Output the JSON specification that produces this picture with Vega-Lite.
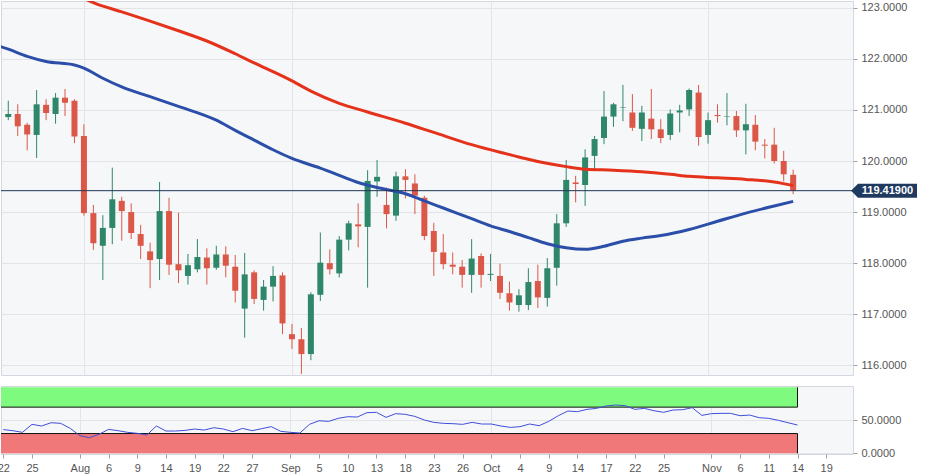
{
  "$schema": "https://vega.github.io/schema/vega-lite/v6.json",
  "background": "white",
  "padding": {"left": -4, "top": 0, "right": 0, "bottom": 0},
  "config": {
    "view": {"fill": "#f6f7f9", "stroke": "#d4d7e0"},
    "font": "Liberation Sans",
    "axis": {
      "labelFont": "Liberation Sans",
      "labelFontSize": 11,
      "labelColor": "#555555",
      "tickColor": "#a0a0a0",
      "tickSize": 4,
      "labelPadding": 4,
      "gridColor": "#e2e4ea",
      "domain": false
    }
  },
  "spacing": 9,
  "datasets": {
    "candles": [
      {"date": "2019-07-22", "i": 0, "open": 120.86, "high": 121.18, "low": 120.80, "close": 120.92, "rsi": 36.0},
      {"date": "2019-07-23", "i": 1, "open": 120.92, "high": 121.11, "low": 120.49, "close": 120.68, "rsi": 34.3},
      {"date": "2019-07-24", "i": 2, "open": 120.71, "high": 120.75, "low": 120.21, "close": 120.52, "rsi": 31.8},
      {"date": "2019-07-25", "i": 3, "open": 120.51, "high": 121.39, "low": 120.06, "close": 121.11, "rsi": 43.9},
      {"date": "2019-07-26", "i": 4, "open": 121.10, "high": 121.21, "low": 120.80, "close": 120.94, "rsi": 41.4},
      {"date": "2019-07-29", "i": 5, "open": 120.92, "high": 121.33, "low": 120.73, "close": 121.24, "rsi": 46.4},
      {"date": "2019-07-30", "i": 6, "open": 121.24, "high": 121.41, "low": 120.88, "close": 121.14, "rsi": 45.4},
      {"date": "2019-07-31", "i": 7, "open": 121.18, "high": 121.21, "low": 120.35, "close": 120.48, "rsi": 37.8},
      {"date": "2019-08-01", "i": 8, "open": 120.49, "high": 120.72, "low": 118.93, "close": 118.98, "rsi": 26.8},
      {"date": "2019-08-02", "i": 9, "open": 118.98, "high": 119.14, "low": 118.26, "close": 118.39, "rsi": 23.7},
      {"date": "2019-08-05", "i": 10, "open": 118.34, "high": 118.94, "low": 117.67, "close": 118.69, "rsi": 28.8},
      {"date": "2019-08-06", "i": 11, "open": 118.69, "high": 119.87, "low": 118.37, "close": 119.25, "rsi": 36.3},
      {"date": "2019-08-07", "i": 12, "open": 119.22, "high": 119.30, "low": 118.44, "close": 119.02, "rsi": 34.3},
      {"date": "2019-08-08", "i": 13, "open": 119.00, "high": 119.17, "low": 118.47, "close": 118.59, "rsi": 31.8},
      {"date": "2019-08-09", "i": 14, "open": 118.57, "high": 118.75, "low": 118.08, "close": 118.34, "rsi": 30.3},
      {"date": "2019-08-12", "i": 15, "open": 118.23, "high": 118.40, "low": 117.51, "close": 118.06, "rsi": 27.8},
      {"date": "2019-08-13", "i": 16, "open": 118.08, "high": 119.59, "low": 117.67, "close": 119.02, "rsi": 41.4},
      {"date": "2019-08-14", "i": 17, "open": 119.02, "high": 119.28, "low": 117.77, "close": 117.97, "rsi": 33.8},
      {"date": "2019-08-15", "i": 18, "open": 117.98, "high": 118.99, "low": 117.61, "close": 117.86, "rsi": 33.8},
      {"date": "2019-08-16", "i": 19, "open": 117.75, "high": 118.18, "low": 117.58, "close": 117.96, "rsi": 34.8},
      {"date": "2019-08-19", "i": 20, "open": 117.88, "high": 118.47, "low": 117.82, "close": 118.12, "rsi": 36.8},
      {"date": "2019-08-20", "i": 21, "open": 118.11, "high": 118.29, "low": 117.58, "close": 117.90, "rsi": 35.3},
      {"date": "2019-08-21", "i": 22, "open": 117.91, "high": 118.34, "low": 117.87, "close": 118.17, "rsi": 38.8},
      {"date": "2019-08-22", "i": 23, "open": 118.17, "high": 118.33, "low": 117.72, "close": 117.95, "rsi": 36.8},
      {"date": "2019-08-23", "i": 24, "open": 117.93, "high": 118.16, "low": 117.23, "close": 117.46, "rsi": 32.8},
      {"date": "2019-08-26", "i": 25, "open": 117.11, "high": 118.20, "low": 116.54, "close": 117.78, "rsi": 37.8},
      {"date": "2019-08-27", "i": 26, "open": 117.82, "high": 117.86, "low": 117.20, "close": 117.30, "rsi": 34.3},
      {"date": "2019-08-28", "i": 27, "open": 117.28, "high": 117.67, "low": 117.07, "close": 117.54, "rsi": 37.3},
      {"date": "2019-08-29", "i": 28, "open": 117.54, "high": 117.94, "low": 117.25, "close": 117.75, "rsi": 40.4},
      {"date": "2019-08-30", "i": 29, "open": 117.76, "high": 117.82, "low": 116.61, "close": 116.82, "rsi": 33.3},
      {"date": "2019-09-02", "i": 30, "open": 116.61, "high": 116.81, "low": 116.32, "close": 116.51, "rsi": 31.8},
      {"date": "2019-09-03", "i": 31, "open": 116.51, "high": 116.73, "low": 115.83, "close": 116.22, "rsi": 30.8},
      {"date": "2019-09-04", "i": 32, "open": 116.22, "high": 117.43, "low": 116.10, "close": 117.39, "rsi": 43.9},
      {"date": "2019-09-05", "i": 33, "open": 117.38, "high": 118.60, "low": 117.26, "close": 118.01, "rsi": 49.4},
      {"date": "2019-09-06", "i": 34, "open": 118.00, "high": 118.27, "low": 117.78, "close": 117.88, "rsi": 48.4},
      {"date": "2019-09-09", "i": 35, "open": 117.80, "high": 118.53, "low": 117.72, "close": 118.46, "rsi": 53.0},
      {"date": "2019-09-10", "i": 36, "open": 118.46, "high": 118.83, "low": 118.25, "close": 118.78, "rsi": 55.5},
      {"date": "2019-09-11", "i": 37, "open": 118.76, "high": 119.17, "low": 118.31, "close": 118.72, "rsi": 55.0},
      {"date": "2019-09-12", "i": 38, "open": 118.71, "high": 119.82, "low": 117.52, "close": 119.61, "rsi": 61.6},
      {"date": "2019-09-13", "i": 39, "open": 119.60, "high": 120.02, "low": 119.30, "close": 119.69, "rsi": 62.1},
      {"date": "2019-09-16", "i": 40, "open": 119.14, "high": 119.48, "low": 118.68, "close": 118.96, "rsi": 54.5},
      {"date": "2019-09-17", "i": 41, "open": 118.93, "high": 119.79, "low": 118.83, "close": 119.70, "rsi": 60.1},
      {"date": "2019-09-18", "i": 42, "open": 119.70, "high": 119.84, "low": 119.27, "close": 119.63, "rsi": 59.1},
      {"date": "2019-09-19", "i": 43, "open": 119.56, "high": 119.74, "low": 118.96, "close": 119.32, "rsi": 56.0},
      {"date": "2019-09-20", "i": 44, "open": 119.28, "high": 119.32, "low": 118.45, "close": 118.53, "rsi": 50.5},
      {"date": "2019-09-23", "i": 45, "open": 118.63, "high": 118.79, "low": 117.75, "close": 118.22, "rsi": 46.9},
      {"date": "2019-09-24", "i": 46, "open": 118.21, "high": 118.57, "low": 117.88, "close": 117.98, "rsi": 45.4},
      {"date": "2019-09-25", "i": 47, "open": 117.97, "high": 118.21, "low": 117.78, "close": 117.93, "rsi": 44.9},
      {"date": "2019-09-26", "i": 48, "open": 117.93, "high": 118.06, "low": 117.52, "close": 117.77, "rsi": 43.9},
      {"date": "2019-09-27", "i": 49, "open": 117.77, "high": 118.47, "low": 117.42, "close": 118.09, "rsi": 46.9},
      {"date": "2019-09-30", "i": 50, "open": 118.14, "high": 118.19, "low": 117.52, "close": 117.77, "rsi": 44.4},
      {"date": "2019-10-01", "i": 51, "open": 117.77, "high": 118.18, "low": 117.65, "close": 117.79, "rsi": 44.4},
      {"date": "2019-10-02", "i": 52, "open": 117.75, "high": 117.99, "low": 117.30, "close": 117.42, "rsi": 41.4},
      {"date": "2019-10-03", "i": 53, "open": 117.41, "high": 117.64, "low": 117.07, "close": 117.23, "rsi": 39.3},
      {"date": "2019-10-04", "i": 54, "open": 117.18, "high": 117.49, "low": 117.05, "close": 117.37, "rsi": 40.4},
      {"date": "2019-10-07", "i": 55, "open": 117.18, "high": 117.90, "low": 117.08, "close": 117.63, "rsi": 44.4},
      {"date": "2019-10-08", "i": 56, "open": 117.65, "high": 117.97, "low": 117.12, "close": 117.33, "rsi": 41.9},
      {"date": "2019-10-09", "i": 57, "open": 117.32, "high": 118.10, "low": 117.15, "close": 117.90, "rsi": 48.4},
      {"date": "2019-10-10", "i": 58, "open": 117.91, "high": 118.96, "low": 117.56, "close": 118.78, "rsi": 57.0},
      {"date": "2019-10-11", "i": 59, "open": 118.78, "high": 120.02, "low": 118.71, "close": 119.63, "rsi": 64.1},
      {"date": "2019-10-14", "i": 60, "open": 119.58, "high": 119.71, "low": 119.19, "close": 119.55, "rsi": 63.1},
      {"date": "2019-10-15", "i": 61, "open": 119.53, "high": 120.23, "low": 119.12, "close": 120.07, "rsi": 66.6},
      {"date": "2019-10-16", "i": 62, "open": 120.10, "high": 120.49, "low": 119.81, "close": 120.43, "rsi": 68.1},
      {"date": "2019-10-17", "i": 63, "open": 120.45, "high": 121.37, "low": 120.33, "close": 120.87, "rsi": 71.7},
      {"date": "2019-10-18", "i": 64, "open": 120.87, "high": 121.14, "low": 120.67, "close": 121.11, "rsi": 73.2},
      {"date": "2019-10-21", "i": 65, "open": 121.04, "high": 121.49, "low": 120.78, "close": 121.05, "rsi": 72.2},
      {"date": "2019-10-22", "i": 66, "open": 120.95, "high": 121.31, "low": 120.59, "close": 120.65, "rsi": 66.6},
      {"date": "2019-10-23", "i": 67, "open": 120.63, "high": 121.08, "low": 120.39, "close": 120.95, "rsi": 68.1},
      {"date": "2019-10-24", "i": 68, "open": 120.83, "high": 121.41, "low": 120.43, "close": 120.62, "rsi": 64.6},
      {"date": "2019-10-25", "i": 69, "open": 120.62, "high": 120.82, "low": 120.35, "close": 120.45, "rsi": 62.1},
      {"date": "2019-10-28", "i": 70, "open": 120.51, "high": 121.01, "low": 120.41, "close": 120.93, "rsi": 65.6},
      {"date": "2019-10-29", "i": 71, "open": 120.95, "high": 121.10, "low": 120.56, "close": 120.99, "rsi": 66.1},
      {"date": "2019-10-30", "i": 72, "open": 121.01, "high": 121.42, "low": 120.88, "close": 121.39, "rsi": 69.2},
      {"date": "2019-10-31", "i": 73, "open": 121.34, "high": 121.49, "low": 120.30, "close": 120.47, "rsi": 57.5},
      {"date": "2019-11-01", "i": 74, "open": 120.51, "high": 120.95, "low": 120.34, "close": 120.80, "rsi": 60.1},
      {"date": "2019-11-04", "i": 75, "open": 120.90, "high": 121.11, "low": 120.75, "close": 120.88, "rsi": 60.6},
      {"date": "2019-11-05", "i": 76, "open": 120.87, "high": 121.33, "low": 120.70, "close": 120.88, "rsi": 60.6},
      {"date": "2019-11-06", "i": 77, "open": 120.88, "high": 120.98, "low": 120.47, "close": 120.60, "rsi": 57.0},
      {"date": "2019-11-07", "i": 78, "open": 120.60, "high": 121.12, "low": 120.13, "close": 120.72, "rsi": 58.0},
      {"date": "2019-11-08", "i": 79, "open": 120.71, "high": 120.90, "low": 120.21, "close": 120.38, "rsi": 54.0},
      {"date": "2019-11-11", "i": 80, "open": 120.32, "high": 120.43, "low": 120.05, "close": 120.30, "rsi": 53.0},
      {"date": "2019-11-12", "i": 81, "open": 120.32, "high": 120.65, "low": 119.95, "close": 120.00, "rsi": 50.0},
      {"date": "2019-11-13", "i": 82, "open": 120.00, "high": 120.20, "low": 119.60, "close": 119.74, "rsi": 46.4},
      {"date": "2019-11-14", "i": 83, "open": 119.73, "high": 119.83, "low": 119.35, "close": 119.419, "rsi": 42.9}
    ],
    "ma": [
      {"series": "slow", "i": 7, "value": 123.28},
      {"series": "slow", "i": 9, "value": 123.10},
      {"series": "slow", "i": 12, "value": 122.92},
      {"series": "slow", "i": 15, "value": 122.74},
      {"series": "slow", "i": 18, "value": 122.55},
      {"series": "slow", "i": 21, "value": 122.35},
      {"series": "slow", "i": 24, "value": 122.10},
      {"series": "slow", "i": 26, "value": 121.92},
      {"series": "slow", "i": 28, "value": 121.75},
      {"series": "slow", "i": 30, "value": 121.57},
      {"series": "slow", "i": 32, "value": 121.37},
      {"series": "slow", "i": 35, "value": 121.13},
      {"series": "slow", "i": 38, "value": 120.96},
      {"series": "slow", "i": 42, "value": 120.74},
      {"series": "slow", "i": 45, "value": 120.56},
      {"series": "slow", "i": 49, "value": 120.32},
      {"series": "slow", "i": 52, "value": 120.17},
      {"series": "slow", "i": 54, "value": 120.08},
      {"series": "slow", "i": 56, "value": 119.99},
      {"series": "slow", "i": 59, "value": 119.89},
      {"series": "slow", "i": 61, "value": 119.84},
      {"series": "slow", "i": 64, "value": 119.82},
      {"series": "slow", "i": 67, "value": 119.79},
      {"series": "slow", "i": 70, "value": 119.74},
      {"series": "slow", "i": 72, "value": 119.70},
      {"series": "slow", "i": 75, "value": 119.67},
      {"series": "slow", "i": 78, "value": 119.64},
      {"series": "slow", "i": 81, "value": 119.59},
      {"series": "slow", "i": 83, "value": 119.52},
      {"series": "fast", "i": -1, "value": 122.25},
      {"series": "fast", "i": 0, "value": 122.19},
      {"series": "fast", "i": 2, "value": 122.05},
      {"series": "fast", "i": 4, "value": 121.95},
      {"series": "fast", "i": 7, "value": 121.88},
      {"series": "fast", "i": 8, "value": 121.82},
      {"series": "fast", "i": 10, "value": 121.62},
      {"series": "fast", "i": 12, "value": 121.45},
      {"series": "fast", "i": 15, "value": 121.26},
      {"series": "fast", "i": 18, "value": 121.07},
      {"series": "fast", "i": 22, "value": 120.80},
      {"series": "fast", "i": 24, "value": 120.60},
      {"series": "fast", "i": 26, "value": 120.41},
      {"series": "fast", "i": 28, "value": 120.22},
      {"series": "fast", "i": 30, "value": 120.05},
      {"series": "fast", "i": 33, "value": 119.86},
      {"series": "fast", "i": 35, "value": 119.72},
      {"series": "fast", "i": 37, "value": 119.58},
      {"series": "fast", "i": 39, "value": 119.48},
      {"series": "fast", "i": 42, "value": 119.36},
      {"series": "fast", "i": 44, "value": 119.22},
      {"series": "fast", "i": 46, "value": 119.08},
      {"series": "fast", "i": 49, "value": 118.87},
      {"series": "fast", "i": 51, "value": 118.73},
      {"series": "fast", "i": 53, "value": 118.62},
      {"series": "fast", "i": 55, "value": 118.50},
      {"series": "fast", "i": 57, "value": 118.38},
      {"series": "fast", "i": 59, "value": 118.30},
      {"series": "fast", "i": 61, "value": 118.27},
      {"series": "fast", "i": 63, "value": 118.33},
      {"series": "fast", "i": 65, "value": 118.43},
      {"series": "fast", "i": 67, "value": 118.49},
      {"series": "fast", "i": 69, "value": 118.54},
      {"series": "fast", "i": 72, "value": 118.66},
      {"series": "fast", "i": 75, "value": 118.82},
      {"series": "fast", "i": 78, "value": 118.98},
      {"series": "fast", "i": 81, "value": 119.12},
      {"series": "fast", "i": 83, "value": 119.21}
    ],
    "bands": [
      {"zone": "overbought", "start": -1, "end": 83, "lo": 70, "hi": 100, "edge": 70},
      {"zone": "oversold", "start": -1, "end": 83, "lo": 0, "hi": 30, "edge": 30}
    ],
    "last": [
      {"last": 119.419, "label": "119.41900"}
    ]
  },
  "vconcat": [
    {
      "width": 852,
      "height": 374,
      "layer": [
        {
          "data": {"name": "candles"},
          "mark": {"type": "rule", "strokeWidth": 1, "clip": true},
          "encoding": {
            "x": {
              "field": "i", "type": "quantitative", "title": null,
              "scale": {"domain": [-0.24, 88.8], "nice": false, "zero": false},
              "axis": {"values": [8, 30, 51, 74], "tickCount": 100, "grid": true, "labels": false, "ticks": false, "domain": false}
            },
            "y": {
              "field": "low", "type": "quantitative", "title": null,
              "scale": {"domain": [115.81, 123.133], "nice": false, "zero": false},
              "axis": {"orient": "right", "values": [116, 117, 118, 119, 120, 121, 122, 123], "tickCount": 100, "format": ".4f", "grid": true}
            },
            "y2": {"field": "high"},
            "color": {"condition": {"test": "datum.close >= datum.open", "value": "#2f8769"}, "value": "#db5848"}
          }
        },
        {
          "data": {"name": "candles"},
          "mark": {"type": "bar", "width": 6, "clip": true},
          "encoding": {
            "x": {"field": "i", "type": "quantitative", "title": null},
            "y": {"field": "open", "type": "quantitative", "title": null},
            "y2": {"field": "close"},
            "color": {"condition": {"test": "datum.close >= datum.open", "value": "#2f8769"}, "value": "#db5848"}
          }
        },
        {
          "data": {"name": "ma"},
          "mark": {"type": "line", "strokeWidth": 3, "interpolate": "monotone", "clip": true},
          "encoding": {
            "x": {"field": "i", "type": "quantitative", "title": null},
            "y": {"field": "value", "type": "quantitative", "title": null},
            "detail": {"field": "series", "type": "nominal"},
            "color": {"condition": {"test": "datum.series == 'fast'", "value": "#2b4fa9"}, "value": "#e4321b"}
          }
        },
        {
          "data": {"name": "last"},
          "mark": {"type": "rule", "color": "#1e3656", "strokeWidth": 1},
          "encoding": {
            "y": {"field": "last", "type": "quantitative", "title": null}
          }
        },
        {
          "data": {"name": "last"},
          "mark": {
            "type": "point", "filled": true, "opacity": 1, "color": "#1f3a5f", "size": 4225,
            "shape": "M-0.06,0 L0.154,-0.215 L1.97,-0.215 L1.97,0.215 L0.154,0.215 Z"
          },
          "encoding": {
            "x": {"value": "width"},
            "y": {"field": "last", "type": "quantitative", "title": null}
          }
        },
        {
          "data": {"name": "last"},
          "mark": {"type": "text", "color": "white", "fontWeight": "bold", "fontSize": 11, "font": "Liberation Sans", "align": "center", "baseline": "middle", "dx": 34.5},
          "encoding": {
            "x": {"value": "width"},
            "y": {"field": "last", "type": "quantitative", "title": null},
            "text": {"field": "label"}
          }
        }
      ]
    },
    {
      "width": 852,
      "height": 68,
      "layer": [
        {
          "data": {"name": "bands"},
          "mark": {"type": "rect", "clip": true},
          "encoding": {
            "x": {
              "field": "start", "type": "quantitative", "title": null,
              "scale": {"domain": [-0.24, 88.8], "nice": false, "zero": false},
              "axis": {
                "values": [0, 3, 8, 11, 14, 17, 20, 23, 26, 30, 33, 36, 39, 42, 45, 48, 51, 54, 57, 60, 63, 66, 69, 74, 77, 80, 83, 86],
                "tickCount": 100,
                "grid": true,
                "gridOpacity": {"condition": {"test": "indexof([8, 30, 51, 74], datum.value) >= 0", "value": 1}, "value": 0},
                "labelExpr": "datum.value==0?'22':datum.value==3?'25':datum.value==8?'Aug':datum.value==11?'6':datum.value==14?'9':datum.value==17?'14':datum.value==20?'19':datum.value==23?'22':datum.value==26?'27':datum.value==30?'Sep':datum.value==33?'5':datum.value==36?'10':datum.value==39?'13':datum.value==42?'18':datum.value==45?'23':datum.value==48?'26':datum.value==51?'Oct':datum.value==54?'4':datum.value==57?'9':datum.value==60?'14':datum.value==63?'17':datum.value==66?'22':datum.value==69?'25':datum.value==74?'Nov':datum.value==77?'6':datum.value==80?'11':datum.value==83?'14':datum.value==86?'19':''",
                "labelOverlap": false,
                "labelFlush": false,
                "labelBound": false
              }
            },
            "x2": {"field": "end"},
            "y": {
              "field": "lo", "type": "quantitative", "title": null,
              "scale": {"domain": [-1, 102], "nice": false, "zero": false},
              "axis": {"orient": "right", "values": [0, 50], "format": ".4f", "grid": true}
            },
            "y2": {"field": "hi"},
            "color": {"condition": {"test": "datum.zone == 'overbought'", "value": "#7efb7e"}, "value": "#f07878"}
          }
        },
        {
          "data": {"name": "bands"},
          "mark": {"type": "rule", "color": "#111111", "strokeWidth": 1, "clip": true},
          "encoding": {
            "x": {"field": "start", "type": "quantitative", "title": null},
            "x2": {"field": "end"},
            "y": {"field": "edge", "type": "quantitative", "title": null}
          }
        },
        {
          "data": {"name": "bands"},
          "mark": {"type": "rule", "color": "#111111", "strokeWidth": 1},
          "encoding": {
            "x": {"field": "end", "type": "quantitative", "title": null},
            "y": {"field": "lo", "type": "quantitative", "title": null},
            "y2": {"field": "hi"}
          }
        },
        {
          "data": {"name": "candles"},
          "mark": {"type": "line", "color": "#3f4fd9", "strokeWidth": 1, "clip": true},
          "encoding": {
            "x": {"field": "i", "type": "quantitative", "title": null},
            "y": {"field": "rsi", "type": "quantitative", "title": null}
          }
        }
      ]
    }
  ]
}
